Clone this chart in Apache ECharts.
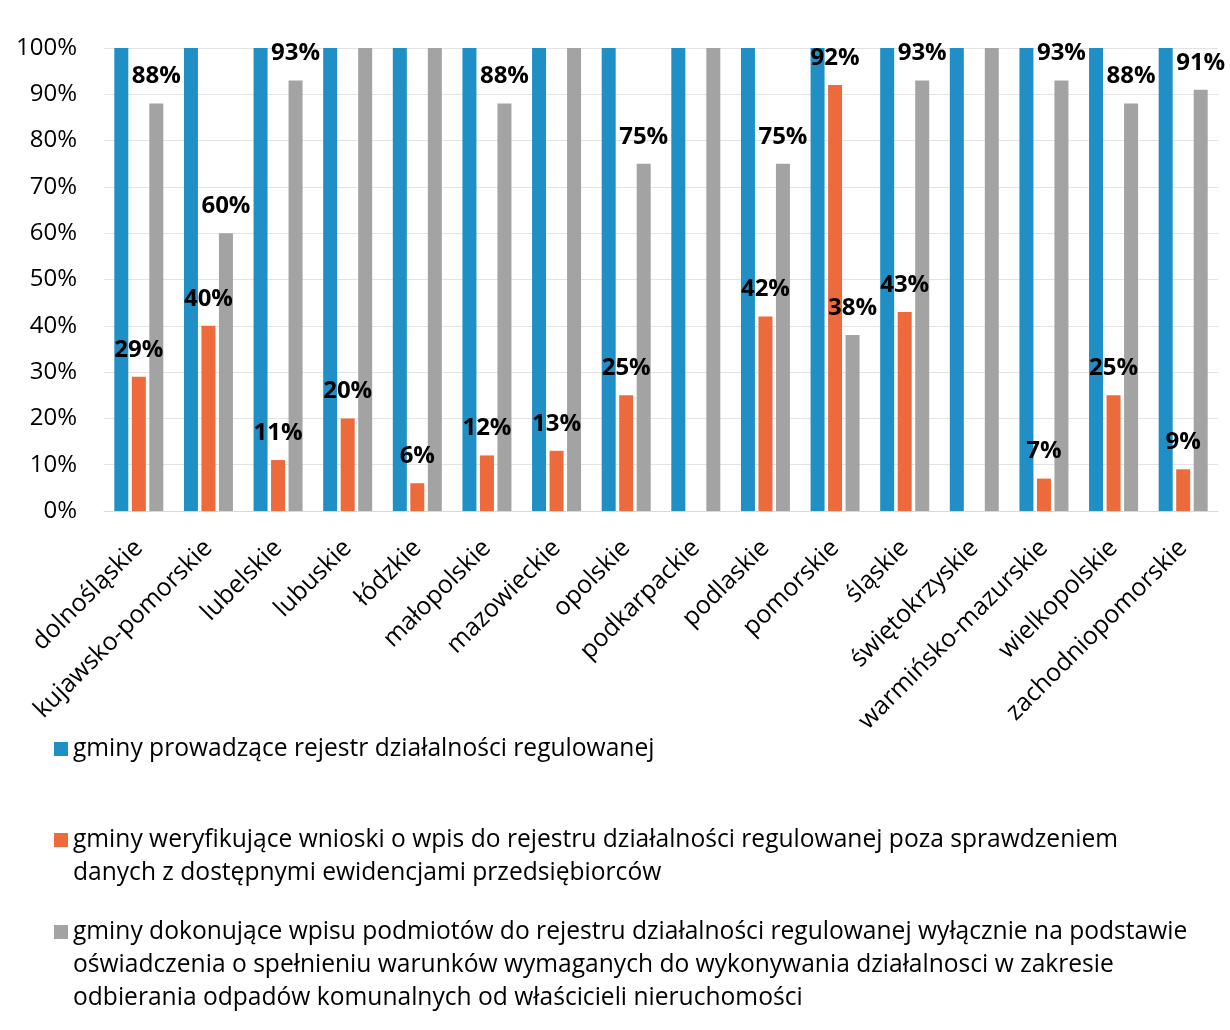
<!DOCTYPE html>
<html>
<head>
<meta charset="utf-8">
<script src="https://cdn.jsdelivr.net/npm/echarts@6/dist/echarts.min.js"></script>
<style>html,body{margin:0;padding:0;background:#fff}#c{width:1230px;height:1030px}</style>
</head>
<body>
<div id="c"></div>
<script>
const categories = ['dolnośląskie','kujawsko-pomorskie','lubelskie','lubuskie','łódzkie','małopolskie','mazowieckie','opolskie','podkarpackie','podlaskie','pomorskie','śląskie','świętokrzyskie','warmińsko-mazurskie','wielkopolskie','zachodniopomorskie'];
const prowadzace = [100,100,100,100,100,100,100,100,100,100,100,100,100,100,100,100];
const weryfikujace = [29,40,11,20,6,12,13,25,0,42,92,43,0,7,25,9];
const oswiadczenie = [88,60,93,100,100,88,100,75,100,75,38,93,100,93,88,91];
const yTicks = [0,10,20,30,40,50,60,70,80,90,100];
const seriesNames = [
  'gminy prowadzące rejestr działalności regulowanej',
  'gminy weryfikujące wnioski o wpis do rejestru działalności regulowanej poza sprawdzeniem danych z dostępnymi ewidencjami przedsiębiorców',
  'gminy dokonujące wpisu podmiotów do rejestru działalności regulowanej wyłącznie na podstawie oświadczenia o spełnieniu warunków wymaganych do wykonywania działalnosci w zakresie odbierania odpadów komunalnych od właścicieli nieruchomości'
];
const legendLines = [
  ['gminy prowadzące rejestr działalności regulowanej'],
  ['gminy weryfikujące wnioski o wpis do rejestru działalności regulowanej poza sprawdzeniem','danych z dostępnymi ewidencjami przedsiębiorców'],
  ['gminy dokonujące wpisu podmiotów do rejestru działalności regulowanej wyłącznie na podstawie','oświadczenia o spełnieniu warunków wymaganych do wykonywania działalnosci w zakresie','odbierania odpadów komunalnych od właścicieli nieruchomości']
];
const colors = ['#1f8fc5','#ec6a3b','#a3a3a3'];

const FONT = '"Open Sans", sans-serif';
const LH = 33;
const legendIconCenters = [749, 840, 932];

const labelCfg = {
  show: true,
  position: 'top',
  distance: 15,
  fontFamily: FONT,
  fontSize: 24,
  fontWeight: 'bold',
  color: '#000',
  formatter: p => (p.value === 0 || p.value === 100) ? '' : p.value + '%'
};

const chart = echarts.init(document.getElementById('c'));
chart.setOption({
  backgroundColor: '#fff',
  animation: false,
  grid: { left: 104, right: 12, top: 48, bottom: 519, containLabel: false },
  legend: legendLines.map((lines, i) => {
    const total = 2 * lines.length - 1;
    return {
      data: [seriesNames[i]],
      left: 54,
      top: legendIconCenters[i] - total * LH / 2,
      padding: 0,
      itemWidth: 14,
      itemHeight: 14,
      icon: 'rect',
      selectedMode: false,
      formatter: () => '\n'.repeat(lines.length - 1) + lines.join('\n'),
      textStyle: {
        fontFamily: FONT,
        fontSize: 24.6,
        color: '#000',
        lineHeight: LH
      }
    };
  }),
  xAxis: {
    type: 'category',
    data: categories,
    axisLine: { lineStyle: { color: '#d9d9d9' } },
    axisTick: { show: false },
    axisLabel: {
      interval: 0,
      rotate: 45,
      margin: 33,
      fontFamily: FONT,
      fontSize: 25,
      color: '#000'
    }
  },
  yAxis: {
    type: 'value',
    min: 0,
    max: 100,
    interval: 10,
    axisLine: { show: false },
    axisTick: { show: false },
    splitLine: { lineStyle: { color: '#e3e3e3' } },
    axisLabel: {
      margin: 27,
      fontFamily: FONT,
      fontSize: 24,
      color: '#000',
      formatter: v => yTicks.includes(v) ? v + '%' : ''
    }
  },
  series: [
    { name: seriesNames[0], type: 'bar', data: prowadzace, barWidth: 14, barGap: '25%', itemStyle: { color: colors[0] }, label: { show: false } },
    { name: seriesNames[1], type: 'bar', data: weryfikujace, barWidth: 14, barGap: '25%', itemStyle: { color: colors[1] }, label: labelCfg },
    { name: seriesNames[2], type: 'bar', data: oswiadczenie, barWidth: 14, barGap: '25%', itemStyle: { color: colors[2] }, label: labelCfg }
  ]
});
</script>
</body>
</html>
